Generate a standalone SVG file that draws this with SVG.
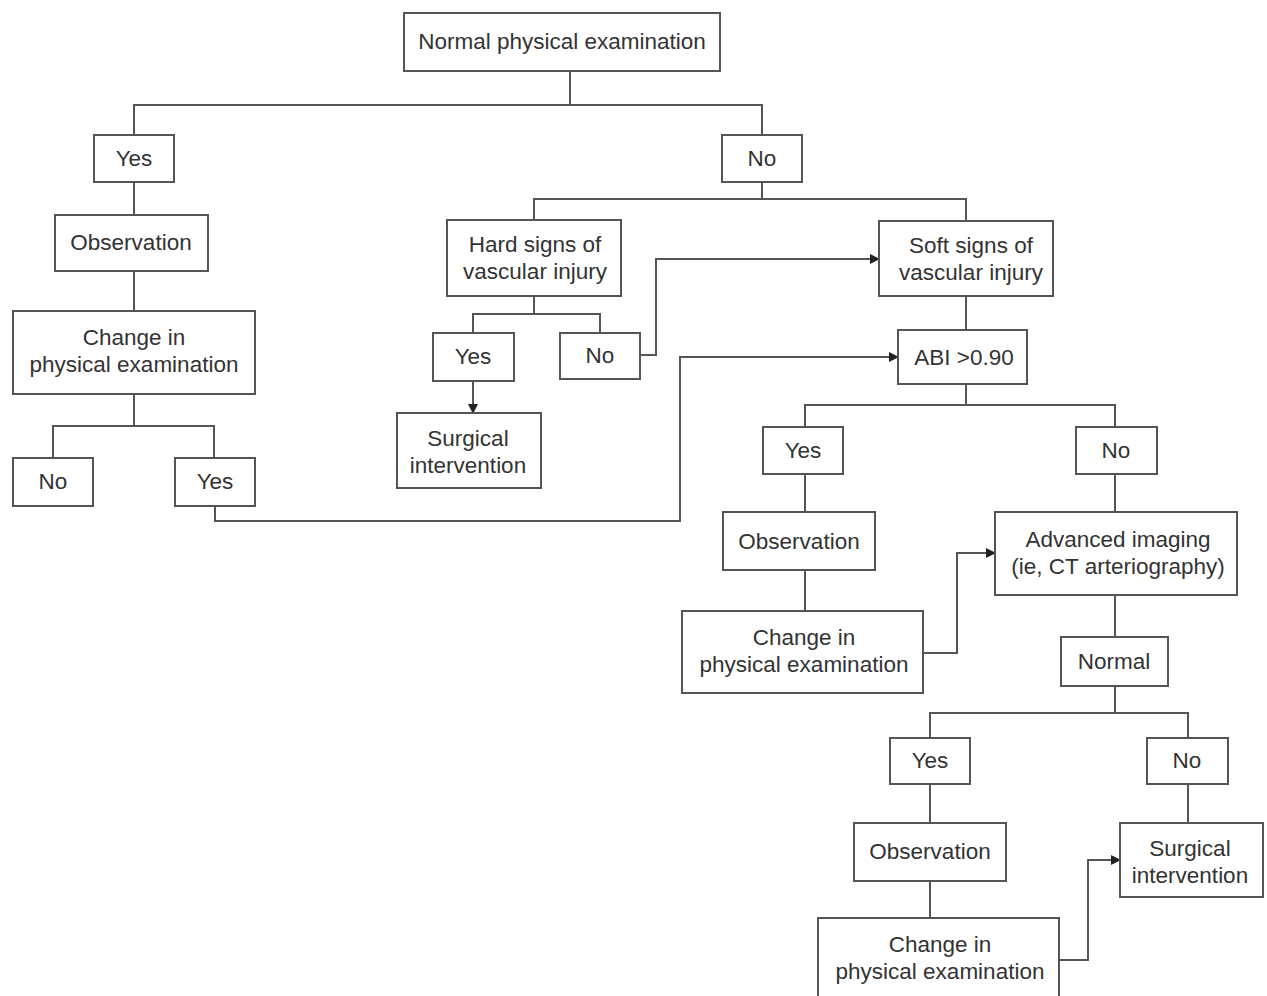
<svg xmlns="http://www.w3.org/2000/svg" width="1267" height="996" viewBox="0 0 1267 996">
<style>
.box{fill:#fff;stroke:#555;stroke-width:2}
.t{font-family:"Liberation Sans",Arial,sans-serif;font-size:22.5px;fill:#333;text-anchor:middle;dominant-baseline:central}
.c{fill:none;stroke:#555;stroke-width:2}
</style>
<defs>
<marker id="ah" viewBox="0 0 10 10" refX="9" refY="5" markerWidth="10" markerHeight="10" markerUnits="userSpaceOnUse" orient="auto">
<path d="M0,0 L10,5 L0,10 z" fill="#222"/>
</marker>
</defs>
<rect width="1267" height="996" fill="#fff"/>
<g id="connectors">
<path class="c" d="M570,71 V105 M134,135 V105 H762 V135"/>
<path class="c" d="M134,182 V215 M134,271 V311 M134,394 V426 M53,458 V426 H214 V458"/>
<path class="c" d="M215,506 V521 H680 V357 H898" marker-end="url(#ah)"/>
<path class="c" d="M762,182 V199 M534,220 V199 H966 V221"/>
<path class="c" d="M534,296 V314 M473,333 V314 H600 V333"/>
<path class="c" d="M473,381 V413" marker-end="url(#ah)"/>
<path class="c" d="M640,355 H656 V259 H879" marker-end="url(#ah)"/>
<path class="c" d="M966,296 V330 M966,384 V405 M805,427 V405 H1115 V427"/>
<path class="c" d="M805,474 V512 M805,570 V611 M1115,474 V512 M1115,595 V637 M1115,686 V713 M930,738 V713 H1188 V738"/>
<path class="c" d="M923,653 H957 V553 H995" marker-end="url(#ah)"/>
<path class="c" d="M930,784 V823 M930,881 V918 M1188,784 V823"/>
<path class="c" d="M1059,960 H1088 V860 H1120" marker-end="url(#ah)"/>
</g>
<g id="n-normal"><rect class="box" x="404" y="13" width="316" height="58"/><text class="t" x="562" y="41">Normal physical examination</text></g>
<g id="n-yes1"><rect class="box" x="94" y="135" width="80" height="47"/><text class="t" x="134" y="158">Yes</text></g>
<g id="n-no1"><rect class="box" x="722" y="135" width="80" height="47"/><text class="t" x="762" y="158">No</text></g>
<g id="n-obs1"><rect class="box" x="55" y="215" width="153" height="56"/><text class="t" x="131" y="242">Observation</text></g>
<g id="n-change1"><rect class="box" x="13" y="311" width="242" height="83"/><text class="t" x="134" y="337">Change in</text><text class="t" x="134" y="364">physical examination</text></g>
<g id="n-no2"><rect class="box" x="13" y="458" width="80" height="48"/><text class="t" x="53" y="481">No</text></g>
<g id="n-yes2"><rect class="box" x="175" y="458" width="80" height="48"/><text class="t" x="215" y="481">Yes</text></g>
<g id="n-hard"><rect class="box" x="447" y="220" width="174" height="76"/><text class="t" x="535" y="244">Hard signs of</text><text class="t" x="535" y="271">vascular injury</text></g>
<g id="n-soft"><rect class="box" x="879" y="221" width="174" height="75"/><text class="t" x="971" y="245">Soft signs of</text><text class="t" x="971" y="272">vascular injury</text></g>
<g id="n-yes3"><rect class="box" x="433" y="333" width="81" height="48"/><text class="t" x="473" y="356">Yes</text></g>
<g id="n-no3"><rect class="box" x="560" y="333" width="80" height="46"/><text class="t" x="600" y="355">No</text></g>
<g id="n-surg1"><rect class="box" x="397" y="413" width="144" height="75"/><text class="t" x="468" y="438">Surgical</text><text class="t" x="468" y="465">intervention</text></g>
<g id="n-abi"><rect class="box" x="898" y="330" width="129" height="54"/><text class="t" x="964" y="357">ABI &gt;0.90</text></g>
<g id="n-yes4"><rect class="box" x="763" y="427" width="80" height="47"/><text class="t" x="803" y="450">Yes</text></g>
<g id="n-no4"><rect class="box" x="1076" y="427" width="81" height="47"/><text class="t" x="1116" y="450">No</text></g>
<g id="n-obs2"><rect class="box" x="723" y="512" width="152" height="58"/><text class="t" x="799" y="541">Observation</text></g>
<g id="n-change2"><rect class="box" x="682" y="611" width="241" height="82"/><text class="t" x="804" y="637">Change in</text><text class="t" x="804" y="664">physical examination</text></g>
<g id="n-adv"><rect class="box" x="995" y="512" width="242" height="83"/><text class="t" x="1118" y="539">Advanced imaging</text><text class="t" x="1118" y="566">(ie, CT arteriography)</text></g>
<g id="n-normal2"><rect class="box" x="1061" y="637" width="107" height="49"/><text class="t" x="1114" y="661">Normal</text></g>
<g id="n-yes5"><rect class="box" x="890" y="738" width="80" height="46"/><text class="t" x="930" y="760">Yes</text></g>
<g id="n-no5"><rect class="box" x="1147" y="738" width="81" height="46"/><text class="t" x="1187" y="760">No</text></g>
<g id="n-obs3"><rect class="box" x="854" y="823" width="152" height="58"/><text class="t" x="930" y="851">Observation</text></g>
<g id="n-surg2"><rect class="box" x="1120" y="823" width="143" height="74"/><text class="t" x="1190" y="848">Surgical</text><text class="t" x="1190" y="875">intervention</text></g>
<g id="n-change3"><rect class="box" x="818" y="918" width="241" height="82"/><text class="t" x="940" y="944">Change in</text><text class="t" x="940" y="971">physical examination</text></g>
</svg>
